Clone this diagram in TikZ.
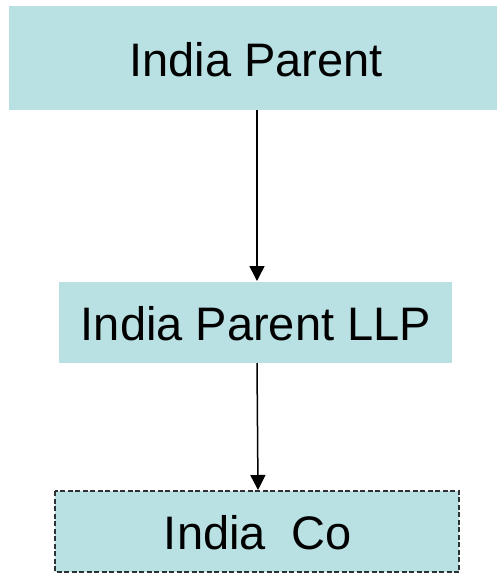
\documentclass[tikz,border=0pt]{standalone}
\usepackage{fontspec}
\setmainfont{Liberation Sans}
\usetikzlibrary{arrows.meta}
\definecolor{boxfill}{RGB}{185,224,227}
\definecolor{dashcol}{RGB}{45,50,52}
\tikzset{
  orgbox/.style={fill=boxfill, draw=none},
  dashbox/.style={fill=boxfill, draw=dashcol, line width=1.2pt, dash pattern=on 5pt off 2.5pt},
  lbl/.style={font=\fontsize{47}{56}\selectfont, inner sep=0pt},
  conn/.style={line width=1.5pt, -{Triangle[width=15pt,length=15pt]}}
}
\begin{document}
\begin{tikzpicture}[x=1pt,y=-1pt]
\useasboundingbox (0,0) rectangle (497,573);
\fill[orgbox] (9,6) rectangle (497,110);
\coordinate (topb) at (257,110);
\node[lbl] (t1) at (256,60) {India Parent};
\fill[orgbox] (59,282) rectangle (452,363);
\coordinate (midt) at (257,281);
\coordinate (midb) at (257,363);
\node[lbl] (t2) at (256,324) {India Parent LLP};
\path[dashbox] (55,491) rectangle (459,572);
\coordinate (bott) at (258,490);
\node[lbl] (t3) at (258,533) {India\ \ Co};
\draw[conn] (topb) -- (midt);
\draw[conn] (midb) -- (bott);
\end{tikzpicture}
\end{document}
